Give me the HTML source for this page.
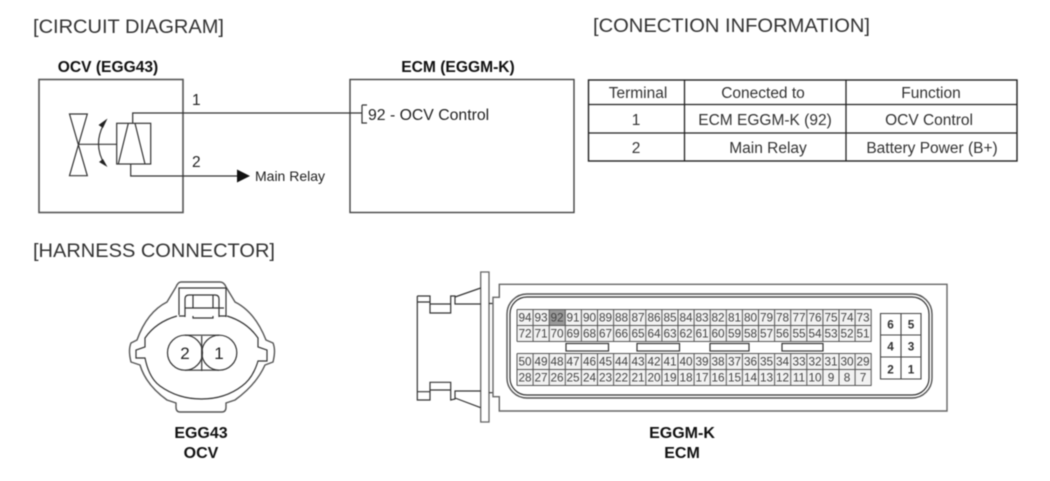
<!DOCTYPE html>
<html>
<head>
<meta charset="utf-8">
<style>
html,body{margin:0;padding:0;background:#fff}
svg{display:block;filter:blur(0.4px)}
text{font-family:"Liberation Sans",sans-serif;fill:#222}
.t{font-size:19px;fill:#333}
.b{font-weight:bold;font-size:16px;text-anchor:middle;fill:#111}
.h{font-weight:bold;font-size:15.600px;text-anchor:middle;fill:#111}
.m{font-size:15.500px;text-anchor:middle;fill:#333}
.p text{font-size:11.800px;text-anchor:middle;fill:#444}
.s text{font-size:11.800px;font-weight:bold;text-anchor:middle;fill:#333}
.l{fill:none;stroke:#333;stroke-width:1.2}
.g{fill:none;stroke:#555;stroke-width:1.4}
</style>
</head>
<body>
<svg width="1050" height="481" viewBox="0 0 1050 481" xmlns="http://www.w3.org/2000/svg">
<rect width="1050" height="481" fill="#fff"/>
<text class="t" x="33" y="33" textLength="191" lengthAdjust="spacingAndGlyphs">[CIRCUIT DIAGRAM]</text>
<text class="t" x="593" y="32" textLength="277" lengthAdjust="spacingAndGlyphs">[CONECTION INFORMATION]</text>
<text class="t" x="33" y="257" textLength="242" lengthAdjust="spacingAndGlyphs">[HARNESS CONNECTOR]</text>

<text class="h" x="108" y="72">OCV (EGG43)</text>
<text class="h" x="458" y="72">ECM (EGGM-K)</text>
<rect x="39" y="79.500" width="144" height="133" fill="none" stroke="#555" stroke-width="1.6"/>
<rect x="350" y="79.500" width="224" height="133" fill="none" stroke="#444" stroke-width="1.4"/>
<path class="l" d="M132.700 123V113H362M362 105H367M362 105V123H367"/>
<rect class="l" x="116.700" y="123.300" width="34" height="40.700"/>
<path class="l" d="M118.300 164L128.300 123.300M135 123.300L145 164"/>
<path class="l" d="M69.500 114H87.300L69.500 175.700H87.300ZM78.300 144.300H116.700"/>
<path class="l" d="M105 122Q92 144 105 165"/>
<path fill="#222" d="M107.500 118.500L98.500 125L103 128ZM107.500 167L99 162L103 159Z"/>
<path class="l" d="M130.700 164V176H240"/>
<path fill="#111" d="M237 169.500L250 176L237 182.500Z"/>
<text x="192" y="105" font-size="15.500">1</text>
<text x="192" y="167" font-size="15.500">2</text>
<text x="255" y="181" font-size="14" fill="#444">Main Relay</text>
<text x="368" y="120" font-size="15.800" fill="#333">92 - OCV Control</text>

<g>
<rect x="588.500" y="80" width="428.500" height="81" fill="none" stroke="#222" stroke-width="1.4"/>
<path fill="none" stroke="#222" stroke-width="1.300" d="M588 104.500H1017M588 133H1017M684.500 80V161M846 80V161"/>
<text class="m" x="638" y="98" fill="#222">Terminal</text>
<text class="m" x="763" y="98">Conected to</text>
<text class="m" x="931" y="98">Function</text>
<text class="m" x="636" y="125">1</text>
<text class="m" x="765" y="125">ECM EGGM-K (92)</text>
<text class="m" x="929" y="125">OCV Control</text>
<text class="m" x="636" y="153">2</text>
<text class="m" x="768" y="153">Main Relay</text>
<text class="m" x="932" y="153">Battery Power (B+)</text>
</g>

<!-- OCV connector -->
<path class="g" d="M181 282H220Q224 282 226 287L235 302Q255 312 266 340L273 343Q276 350 273 362L265 365Q256 385 235 400L226 403V407Q226 412 222 412H180Q176 412 176 407V403L167 400Q146 385 140 365L131 362Q128 350 131 343L137 340Q147 312 167 302L176 287Q178 282 181 282Z"/>
<path class="l" d="M177 316Q156 322 145 338V347L136 350V358H145Q149 378 160 386Q178 399 201.500 399Q225 399 242 386Q253 378 258 361H267V350L258 347V338Q247 322 227 316"/>
<path class="l" d="M179 315V288H226V317M185 317V299Q185 295 189 295H215Q219 295 219 299V317M185 308H224M179 316H185M193 295V308M213 295V308M193 316V318H213V316M219 316H226"/>
<circle class="l" cx="185" cy="352.700" r="17.500" fill="#fff"/>
<circle class="l" cx="219.300" cy="352.700" r="17.500" fill="#fff"/>
<path class="l" d="M201.700 336V371M185 335.200H219M185 370.200H219"/>
<text x="185" y="359" font-size="17" text-anchor="middle" fill="#333">2</text>
<text x="219" y="359" font-size="17" text-anchor="middle" fill="#333">1</text>
<text class="b" x="201" y="438">EGG43</text>
<text class="b" x="201" y="458">OCV</text>

<!-- ECM connector -->
<rect x="480.700" y="272" width="8.300" height="150" fill="#fff" stroke="#666" stroke-width="1.300"/>
<path class="l" d="M417.300 296V400H430V382.300H450.700V400L455 399V391H480.700M417.300 296H430V313H450.700V296H455V304H480.700M417.300 302H430M430 304H450.700M417.300 391.700H430M430 390H450.700M455 297L480.700 288M455 398L480.700 407.700M489 303.500H493M489 392.700H493"/>
<path fill="none" stroke="#666" stroke-width="1.400" d="M499.300 284.300H947V411H499.300V396.700H493V297.300H499.300Z"/>
<rect class="g" x="507" y="294" width="425" height="104" rx="20"/>
<rect class="l" x="510" y="297" width="419" height="98" rx="17"/>

<g stroke="none">
<rect x="517" y="309.500" width="354.500" height="32" fill="#f2f2f2"/>
<rect x="517" y="353.500" width="354.500" height="32" fill="#f2f2f2"/>
<rect x="549.200" y="309.500" width="16.100" height="16" fill="#999"/>
</g>
<path fill="none" stroke="#555" stroke-width="1" d="M517 309.500H871.500M517 325.500H871.500M517 341.500H871.500M517 353.500H871.500M517 369.500H871.500M517 385.500H871.500M517 309.500V341.500M533.100 309.500V341.500M549.200 309.500V341.500M565.300 309.500V341.500M581.400 309.500V341.500M597.500 309.500V341.500M613.600 309.500V341.500M629.700 309.500V341.500M645.800 309.500V341.500M661.900 309.500V341.500M678 309.500V341.500M694.100 309.500V341.500M710.200 309.500V341.500M726.300 309.500V341.500M742.400 309.500V341.500M758.500 309.500V341.500M774.600 309.500V341.500M790.700 309.500V341.500M806.800 309.500V341.500M822.900 309.500V341.500M839 309.500V341.500M855.100 309.500V341.500M871.200 309.500V341.500M517 353.500V385.500M533.100 353.500V385.500M549.200 353.500V385.500M565.300 353.500V385.500M581.400 353.500V385.500M597.500 353.500V385.500M613.600 353.500V385.500M629.700 353.500V385.500M645.800 353.500V385.500M661.900 353.500V385.500M678 353.500V385.500M694.100 353.500V385.500M710.200 353.500V385.500M726.300 353.500V385.500M742.400 353.500V385.500M758.500 353.500V385.500M774.600 353.500V385.500M790.700 353.500V385.500M806.800 353.500V385.500M822.900 353.500V385.500M839 353.500V385.500M855.100 353.500V385.500M871.200 353.500V385.500"/>
<g class="l">
<rect x="566" y="343.500" width="42.500" height="7.500"/>
<rect x="637" y="343.500" width="42.500" height="7.500"/>
<rect x="710" y="343.500" width="39" height="7.500"/>
<rect x="782" y="343.500" width="41" height="7.500"/>
</g>
<g class="p">
<text x="525" y="321.500">94</text><text x="541" y="321.500">93</text><text x="557" y="321.500">92</text><text x="573" y="321.500">91</text><text x="589.500" y="321.500">90</text><text x="605.500" y="321.500">89</text><text x="621.500" y="321.500">88</text><text x="638" y="321.500">87</text><text x="654" y="321.500">86</text><text x="670" y="321.500">85</text><text x="686" y="321.500">84</text><text x="702" y="321.500">83</text><text x="718" y="321.500">82</text><text x="734.500" y="321.500">81</text><text x="750.500" y="321.500">80</text><text x="766.500" y="321.500">79</text><text x="782.500" y="321.500">78</text><text x="799" y="321.500">77</text><text x="815" y="321.500">76</text><text x="831" y="321.500">75</text><text x="847" y="321.500">74</text><text x="863" y="321.500">73</text>
<text x="525" y="337.500">72</text><text x="541" y="337.500">71</text><text x="557" y="337.500">70</text><text x="573" y="337.500">69</text><text x="589.500" y="337.500">68</text><text x="605.500" y="337.500">67</text><text x="621.500" y="337.500">66</text><text x="638" y="337.500">65</text><text x="654" y="337.500">64</text><text x="670" y="337.500">63</text><text x="686" y="337.500">62</text><text x="702" y="337.500">61</text><text x="718" y="337.500">60</text><text x="734.500" y="337.500">59</text><text x="750.500" y="337.500">58</text><text x="766.500" y="337.500">57</text><text x="782.500" y="337.500">56</text><text x="799" y="337.500">55</text><text x="815" y="337.500">54</text><text x="831" y="337.500">53</text><text x="847" y="337.500">52</text><text x="863" y="337.500">51</text>
<text x="525" y="365.500">50</text><text x="541" y="365.500">49</text><text x="557" y="365.500">48</text><text x="573" y="365.500">47</text><text x="589.500" y="365.500">46</text><text x="605.500" y="365.500">45</text><text x="621.500" y="365.500">44</text><text x="638" y="365.500">43</text><text x="654" y="365.500">42</text><text x="670" y="365.500">41</text><text x="686" y="365.500">40</text><text x="702" y="365.500">39</text><text x="718" y="365.500">38</text><text x="734.500" y="365.500">37</text><text x="750.500" y="365.500">36</text><text x="766.500" y="365.500">35</text><text x="782.500" y="365.500">34</text><text x="799" y="365.500">33</text><text x="815" y="365.500">32</text><text x="831" y="365.500">31</text><text x="847" y="365.500">30</text><text x="863" y="365.500">29</text>
<text x="525" y="381.500">28</text><text x="541" y="381.500">27</text><text x="557" y="381.500">26</text><text x="573" y="381.500">25</text><text x="589.500" y="381.500">24</text><text x="605.500" y="381.500">23</text><text x="621.500" y="381.500">22</text><text x="638" y="381.500">21</text><text x="654" y="381.500">20</text><text x="670" y="381.500">19</text><text x="686" y="381.500">18</text><text x="702" y="381.500">17</text><text x="718" y="381.500">16</text><text x="734.500" y="381.500">15</text><text x="750.500" y="381.500">14</text><text x="766.500" y="381.500">13</text><text x="782.500" y="381.500">12</text><text x="799" y="381.500">11</text><text x="815" y="381.500">10</text><text x="831" y="381.500">9</text><text x="847" y="381.500">8</text><text x="863" y="381.500">7</text>
</g>
<path fill="none" stroke="#444" stroke-width="1.100" d="M880.500 313.500H921V379H880.500ZM880.500 335H921M880.500 357H921M901 313.500V379"/>
<g class="s">
<text x="890.500" y="328.500">6</text><text x="911" y="328.500">5</text>
<text x="890.500" y="350.500">4</text><text x="911" y="350.500">3</text>
<text x="890.500" y="373.500">2</text><text x="911" y="373.500">1</text>
</g>
<text class="b" x="682" y="438">EGGM-K</text>
<text class="b" x="682" y="458">ECM</text>
</svg>
</body>
</html>
